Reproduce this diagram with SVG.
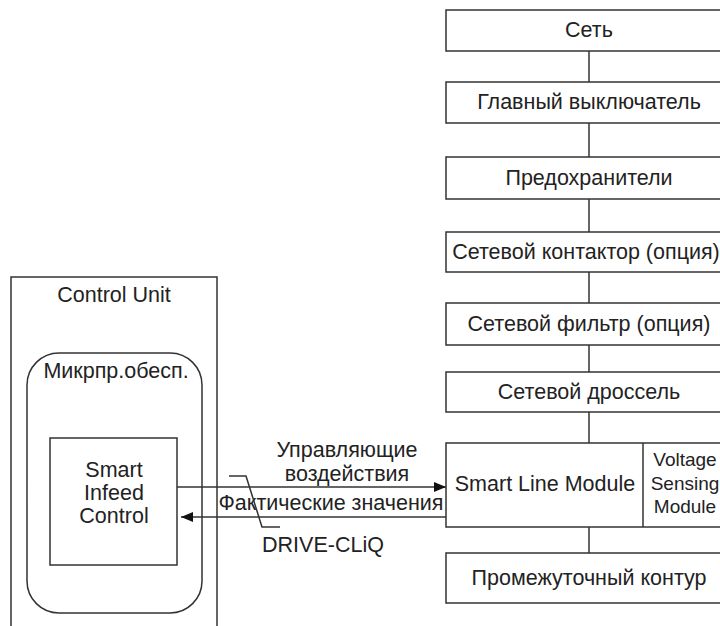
<svg xmlns="http://www.w3.org/2000/svg" width="720" height="626" viewBox="0 0 720 626">
<style>
.b{fill:#fff;stroke:#333;stroke-width:1.5}
.t{font-family:"Liberation Sans",Arial,sans-serif;font-size:21.5px;fill:#222;text-anchor:middle}
.s{font-family:"Liberation Sans",Arial,sans-serif;font-size:19px;fill:#222;text-anchor:middle}
.c{fill:none;stroke:#333;stroke-width:1.5}
</style>
<defs>
<marker id="ah" viewBox="0 0 12 10" refX="12" refY="5" markerWidth="12" markerHeight="10" markerUnits="userSpaceOnUse" orient="auto">
<path d="M0,0 L12,5 L0,10 Z" fill="#111"/>
</marker>
</defs>
<rect width="720" height="626" fill="#fff"/>
<g id="connectors">
<line class="c" x1="589" y1="51" x2="589" y2="82"/>
<line class="c" x1="589" y1="123" x2="589" y2="157"/>
<line class="c" x1="589" y1="199" x2="589" y2="232"/>
<line class="c" x1="589" y1="272" x2="589" y2="303"/>
<line class="c" x1="589" y1="345" x2="589" y2="372"/>
<line class="c" x1="589" y1="412" x2="589" y2="443"/>
<line class="c" x1="589" y1="527" x2="589" y2="553"/>
</g>
<g id="control-unit">
<rect class="b" x="11" y="277" width="206" height="370"/>
<text class="t" x="114" y="302">Control Unit</text>
</g>
<g id="firmware">
<rect class="b" x="27" y="353" width="175" height="260" rx="32" ry="32"/>
<text class="t" x="116" y="378">Микрпр.обесп.</text>
</g>
<g id="smart-infeed-control">
<rect class="b" x="50" y="438" width="127" height="127"/>
<text class="t" x="114" y="477">Smart</text>
<text class="t" x="114" y="500">Infeed</text>
<text class="t" x="114" y="523">Control</text>
</g>
<g id="signals">
<line class="c" x1="177" y1="487" x2="446" y2="487" marker-end="url(#ah)"/>
<line class="c" x1="446" y1="517" x2="181" y2="517" marker-end="url(#ah)"/>
<text class="t" x="347" y="457">Управляющие</text>
<text class="t" x="347" y="481">воздействия</text>
<text class="t" x="331" y="510">Фактические значения</text>
<polyline class="c" points="229,476 246,476 262,527 280,527"/>
<text class="t" x="323" y="552">DRIVE-CLiQ</text>
</g>
<g id="net"><rect class="b" x="446" y="10" width="290" height="41"/><text class="t" x="589" y="37">Сеть</text></g>
<g id="main-switch"><rect class="b" x="446" y="82" width="290" height="41"/><text class="t" x="589" y="109">Главный выключатель</text></g>
<g id="fuses"><rect class="b" x="446" y="157" width="290" height="42"/><text class="t" x="589" y="185">Предохранители</text></g>
<g id="contactor"><rect class="b" x="446" y="232" width="290" height="40"/><text class="t" x="586" y="259">Сетевой контактор (опция)</text></g>
<g id="filter"><rect class="b" x="446" y="303" width="290" height="42"/><text class="t" x="589" y="331">Сетевой фильтр (опция)</text></g>
<g id="reactor"><rect class="b" x="446" y="372" width="290" height="40"/><text class="t" x="589" y="399">Сетевой дроссель</text></g>
<g id="smart-line-module">
<rect class="b" x="446" y="443" width="290" height="84"/>
<line class="c" x1="643" y1="443" x2="643" y2="527"/>
<text class="t" x="545" y="491">Smart Line Module</text>
</g>
<g id="voltage-sensing-module">
<text class="s" x="685" y="466">Voltage</text>
<text class="s" x="685" y="490">Sensing</text>
<text class="s" x="685" y="513">Module</text>
</g>
<g id="dc-link"><rect class="b" x="446" y="553" width="290" height="50"/><text class="t" x="589" y="585">Промежуточный контур</text></g>
</svg>
